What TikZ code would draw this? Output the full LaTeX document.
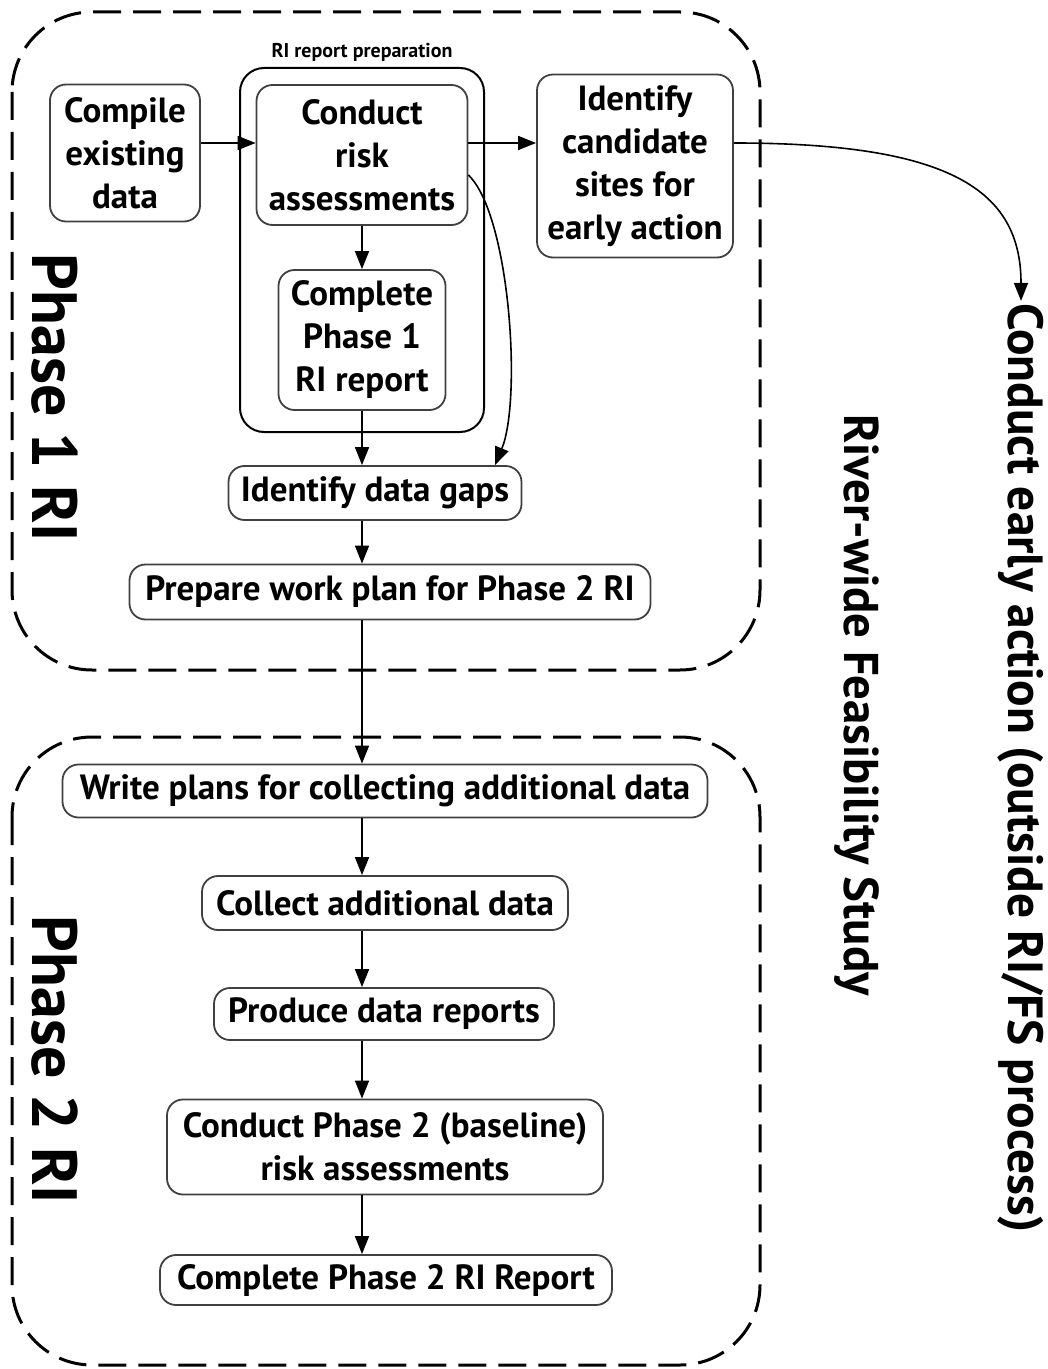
\documentclass[tikz,border=0pt]{standalone}
\usepackage{fontspec}
\setmainfont{PT Sans}
\usetikzlibrary{arrows.meta}

\begin{document}
\begin{tikzpicture}[x=0.5pt,y=-0.5pt,
    stepbox/.style={draw=black!75, line width=0.9pt, rounded corners=8pt, align=center,
      inner sep=2pt, font=\fontsize{17.5}{21.5}\selectfont\bfseries},
    flow/.style={-{Triangle[length=9pt,width=7pt]}, line width=0.8pt},
    phasebox/.style={dash pattern=on 14pt off 6pt, line width=1.5pt, rounded corners=40pt},
    sidetext/.style={rotate=-90, inner sep=1pt, font=\bfseries}]
    % Frame
    \useasboundingbox (0,0) rectangle (1048,1369);

    % Phase outlines
    \draw[phasebox] (12,12) rectangle (760,670);
    \draw[phasebox] (12,737) rectangle (760,1365);

    % RI report preparation group
    \draw[line width=1pt, rounded corners=12pt] (240,68) rectangle (484,432);
    \node[font=\fontsize{10}{12}\selectfont\bfseries] (prepnote) at (362,52) {RI report preparation};

    % Phase 1 steps
    \node[stepbox, minimum width=75pt, minimum height=68.5pt] (compile) at (125,153) {Compile\\existing\\data};
    \node[stepbox, minimum width=105.5pt, minimum height=70pt] (assess) at (362,155) {Conduct\\risk\\assessments};
    \node[stepbox, minimum width=98pt, minimum height=91.5pt] (candidates) at (635,166) {Identify\\candidate\\sites for\\early action};
    \node[stepbox, minimum width=83.5pt, minimum height=70pt] (report1) at (362,340) {Complete\\Phase 1\\RI report};
    \node[stepbox, minimum width=146.5pt, minimum height=27pt] (gaps) at (375,493) {Identify data gaps};
    \node[stepbox, minimum width=260.5pt, minimum height=27.5pt] (workplan) at (390,592) {Prepare work plan for Phase 2 RI};

    % Phase 2 steps
    \node[stepbox, minimum width=322.5pt, minimum height=26.5pt] (plans) at (385,791) {Write plans for collecting additional data};
    \node[stepbox, minimum width=183pt, minimum height=27pt] (collect) at (385,903) {Collect additional data};
    \node[stepbox, minimum width=170pt, minimum height=26pt] (produce) at (384,1014) {Produce data reports};
    \node[stepbox, minimum width=218pt, minimum height=47.5pt] (assess2) at (385,1147) {Conduct Phase 2 (baseline)\\risk assessments};
    \node[stepbox, minimum width=226pt, minimum height=25pt] (report2) at (386,1280) {Complete Phase 2 RI Report};

    % Side labels
    \node[sidetext, font=\fontsize{32}{34}\selectfont\bfseries] (phase1) at (55,398) {Phase 1 RI};
    \node[sidetext, font=\fontsize{32}{34}\selectfont\bfseries] (phase2) at (55,1060) {Phase 2 RI};
    \node[sidetext, font=\fontsize{24.4}{26}\selectfont\bfseries] (study) at (857,705) {River-wide Feasibility Study};
    \node[sidetext, font=\fontsize{24.7}{26}\selectfont\bfseries] (early) at (1021,768) {Conduct early action (outside RI/FS process)};

    % Connectors, top row
    \draw[flow] ([yshift=5pt]compile.east) -- ([yshift=5pt]compile.east -| assess.west);
    \draw[flow] ([yshift=6pt]assess.east) -- ([yshift=6pt]assess.east -| candidates.west);
    \draw[flow] ([yshift=11.5pt]candidates.east) .. controls (950,143) and (1021,190) .. (early.west);

    % Connectors, main spine
    \draw[flow] (assess.south) -- (report1.north);
    \draw[flow] (report1.south) -- (gaps.north -| report1.south);
    \draw[flow] ([yshift=-10pt]assess.east) .. controls (510,215) and (522,400) .. ([xshift=60pt]gaps.north);
    \draw[flow] (gaps.south -| report1.south) -- (workplan.north -| report1.south);
    \draw[flow] (workplan.south -| report1.south) -- (plans.north -| report1.south);
    \draw[flow] (plans.south -| report1.south) -- (collect.north -| report1.south);
    \draw[flow] (collect.south -| report1.south) -- (produce.north -| report1.south);
    \draw[flow] (produce.south -| report1.south) -- (assess2.north -| report1.south);
    \draw[flow] (assess2.south -| report1.south) -- (report2.north -| report1.south);
\end{tikzpicture}
\end{document}
